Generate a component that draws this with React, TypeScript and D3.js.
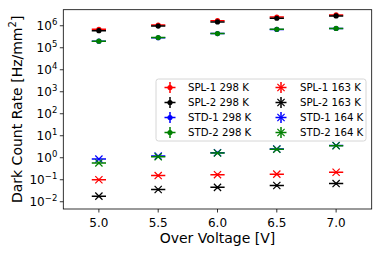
import React from 'react'
import * as d3 from 'd3'

const voltages = [5.0, 5.5, 6.0, 6.5, 7.0]

// 298 K (warm) dark count rates, Hz/mm^2
const spl1Warm = [6.9e5, 1.07e6, 1.7e6, 2.5e6, 3.1e6]
const spl2Warm = [6.0e5, 9.7e5, 1.5e6, 2.2e6, 2.8e6]
const std1Warm = [2.0e5, 2.85e5, 4.4e5, 6.8e5, 7.5e5]
const std2Warm = [2.0e5, 2.9e5, 4.4e5, 6.9e5, 7.6e5]

// cold runs
const spl1Cold = [0.1, 0.155, 0.17, 0.18, 0.22]
const spl2Cold = [0.018, 0.036, 0.045, 0.055, 0.067]
const std1Cold = [0.87, 1.2, 1.7, 2.5, 3.6]
const std2Cold = [0.58, 1.1, 1.65, 2.45, 3.5]

const xTicks = [5.0, 5.5, 6.0, 6.5, 7.0]
const yExponents = [-2, -1, 0, 1, 2, 3, 4, 5, 6]

const xErr = 0.06
const yErrRel = 0.12

const series = [
  { label: 'SPL-1 298 K', color: '#ff0000', values: spl1Warm, marker: 'dot' },
  { label: 'SPL-2 298 K', color: '#000000', values: spl2Warm, marker: 'dot' },
  { label: 'STD-1 298 K', color: '#0000ff', values: std1Warm, marker: 'dot' },
  { label: 'STD-2 298 K', color: '#008000', values: std2Warm, marker: 'dot' },
  { label: 'SPL-1 163 K', color: '#ff0000', values: spl1Cold, marker: 'x' },
  { label: 'SPL-2 163 K', color: '#000000', values: spl2Cold, marker: 'x' },
  { label: 'STD-1 164 K', color: '#0000ff', values: std1Cold, marker: 'x' },
  { label: 'STD-2 164 K', color: '#008000', values: std2Cold, marker: 'x' }
]

const W = 381
const H = 253
const margin = { left: 63.3, right: 9.3, top: 9.7, bottom: 44 }

const x = d3.scaleLinear().domain([4.7, 7.3]).range([margin.left, W - margin.right])
const y = d3.scaleLog().domain([Math.pow(10, -2.33), Math.pow(10, 6.73)]).range([H - margin.bottom, margin.top])

const font = 'DejaVu Sans, sans-serif'

function Marker ({ cx, cy, kind, color, legend }) {
  if (kind === 'dot') {
    return <circle cx={cx} cy={cy} r={2.6} fill={color} />
  }
  const s = 3.6
  return (
    <path
      d={`M${cx - s},${cy - s}L${cx + s},${cy + s}M${cx - s},${cy + s}L${cx + s},${cy - s}`}
      stroke={color}
      strokeWidth={1.2}
      fill='none'
    />
  )
}

function Point ({ v, val, s }) {
  const cx = x(v)
  const cy = y(val)
  const x0 = x(v - xErr)
  const x1 = x(v + xErr)
  const y0 = y(val * (1 - yErrRel))
  const y1 = y(val * (1 + yErrRel))
  return (
    <g>
      <path d={`M${x0},${cy}H${x1}M${cx},${y0}V${y1}`} stroke={s.color} strokeWidth={1.5} />
      <Marker cx={cx} cy={cy} kind={s.marker} color={s.color} />
    </g>
  )
}

function Legend () {
  const bx = 156
  const by = 79
  const rowY = [87.5, 102.5, 117.5, 132.5]
  const colX = [170, 281]
  const textX = [188, 300]
  return (
    <g>
      <rect x={bx} y={by} width={210} height={62} rx={2.5} fill='#fff' fillOpacity={0.8} stroke='#cccccc' strokeWidth={0.8} />
      {series.map((s, i) => {
        const col = Math.floor(i / 4)
        const row = i % 4
        const cx = colX[col]
        const cy = rowY[row]
        const h = 5.5
        return (
          <g key={s.label}>
            <path d={`M${cx - h},${cy}H${cx + h}M${cx},${cy - h}V${cy + h}`} stroke={s.color} strokeWidth={1.5} />
            <Marker cx={cx} cy={cy} kind={s.marker} color={s.color} />
            <text x={textX[col]} y={cy + 3.6} fontSize={10.2} fontFamily={font} fill='#000'>{s.label}</text>
          </g>
        )
      })}
    </g>
  )
}

export default function App () {
  const plotBottom = H - margin.bottom
  const plotRight = W - margin.right
  return (
    <svg width={W} height={H} viewBox={`0 0 ${W} ${H}`} style={{ position: 'absolute', left: 0, top: 0, background: '#fff' }}>
      <rect x={0} y={0} width={W} height={H} fill='#fff' />
      {/* x axis ticks */}
      {xTicks.map(t => (
        <g key={'x' + t}>
          <line x1={x(t)} x2={x(t)} y1={plotBottom} y2={plotBottom + 3.5} stroke='#000' strokeWidth={0.8} />
          <text x={x(t)} y={plotBottom + 17.5} textAnchor='middle' fontSize={12} fontFamily={font}>{t.toFixed(1)}</text>
        </g>
      ))}
      {/* y axis ticks */}
      {yExponents.map(e => (
        <g key={'y' + e}>
          <line x1={margin.left - 3.5} x2={margin.left} y1={y(Math.pow(10, e))} y2={y(Math.pow(10, e))} stroke='#000' strokeWidth={0.8} />
          <text x={margin.left - 6} y={y(Math.pow(10, e)) + 4.5} textAnchor='end' fontSize={12} fontFamily={font}>
            10<tspan dy={-5.5} fontSize={8.5}>{e < 0 ? '\u2212' + Math.abs(e) : e}</tspan>
          </text>
        </g>
      ))}
      {/* data */}
      {series.map(s => (
        <g key={s.label}>
          {voltages.map((v, i) => <Point key={v} v={v} val={s.values[i]} s={s} />)}
        </g>
      ))}
      <Legend />
      <rect x={margin.left} y={margin.top} width={plotRight - margin.left} height={plotBottom - margin.top} fill='none' stroke='#000' strokeWidth={0.8} />
      <text x={(margin.left + plotRight) / 2} y={243} textAnchor='middle' fontSize={14} fontFamily={font}>Over Voltage [V]</text>
      <text transform={`translate(22,${(margin.top + plotBottom) / 2}) rotate(-90)`} textAnchor='middle' fontSize={14} fontFamily={font}>
        Dark Count Rate [Hz/mm<tspan dy={-6} fontSize={10}>2</tspan><tspan dy={6}>]</tspan>
      </text>
    </svg>
  )
}
